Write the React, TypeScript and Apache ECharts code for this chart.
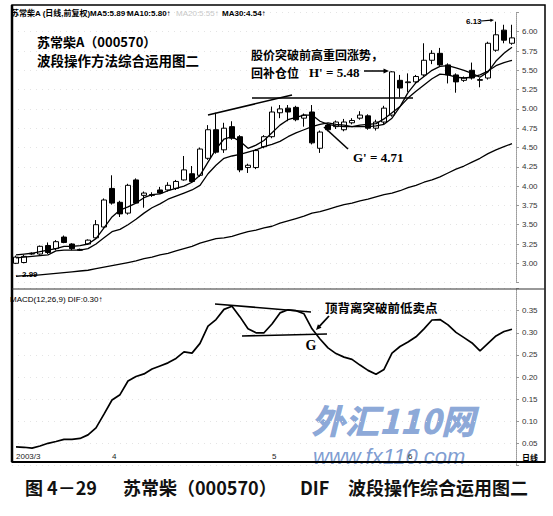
import React, { useEffect, useRef } from "react";
import * as echarts from "echarts";

// ---------- data ----------
const categories = [
  "1","2","3","4","5","6","7","8","9","10","11","12","13","14","15","16","17","18","19","20","21",
  "22","23","24","25","26","27","28","29","30","31","32","33","34","35","36","37","38","39","40","41","42",
  "43","44","45","46","47","48","49","50","51","52","53","54","55","56","57","58","59","60","61","62","63",
];
const monthTickIndex = [0, 12, 32, 49];
const monthTickLabels = ["2003/3", "4", "5", "6"];

const opens = [
  3.0, 3.01, 3.12, 3.12, 3.23, 3.19, 3.34, 3.25, 3.18, 3.25, 3.33, 3.47, 3.97, 3.79, 3.65, 4.08, 3.88, 3.89, 3.95, 3.95, 3.97,
  4.08, 4.16, 4.14, 4.36, 4.73, 4.47, 4.77, 4.64, 4.24, 4.24, 4.51, 4.64, 4.95, 5.01, 5.02, 4.88, 4.96, 4.49, 4.79, 4.77, 4.73,
  4.82, 4.88, 4.91, 4.75, 4.83, 4.92, 5.37, 5.34, 5.35, 5.44, 5.63, 5.72, 5.57, 5.44, 5.37, 5.5, 5.37, 5.4, 5.76, 6.02, 5.85,
];
const closes = [
  3.08, 3.09, 3.13, 3.22, 3.14, 3.28, 3.27, 3.19, 3.17, 3.3, 3.5, 3.82, 3.78, 3.64, 4.01, 3.78, 3.91, 3.88, 3.91, 4.01, 4.06,
  4.21, 4.06, 4.48, 4.73, 4.44, 4.75, 4.62, 4.21, 4.27, 4.46, 4.64, 4.96, 5.0, 4.96, 4.86, 4.92, 4.56, 4.7, 4.73, 4.83, 4.83,
  4.85, 4.92, 4.75, 4.83, 5.01, 5.48, 5.27, 5.35, 5.42, 5.63, 5.72, 5.57, 5.44, 5.35, 5.4, 5.4, 5.38, 5.85, 5.96, 5.89, 5.92,
];
const lows = [
  2.99, 3.0, 3.11, 3.11, 3.12, 3.17, 3.26, 3.17, 3.16, 3.24, 3.32, 3.46, 3.76, 3.6, 3.63, 3.77, 3.72, 3.86, 3.9, 3.93, 3.95,
  4.07, 4.04, 4.12, 4.34, 4.42, 4.43, 4.6, 4.18, 4.17, 4.22, 4.49, 4.62, 4.88, 4.84, 4.84, 4.77, 4.54, 4.43, 4.71, 4.74, 4.71,
  4.8, 4.86, 4.73, 4.72, 4.8, 4.9, 5.15, 5.22, 5.33, 5.42, 5.58, 5.55, 5.33, 5.21, 5.35, 5.38, 5.28, 5.38, 5.74, 5.85, 5.83,
];
const highs = [
  3.1, 3.11, 3.14, 3.23, 3.27, 3.3, 3.36, 3.26, 3.19, 3.31, 3.56, 3.84, 4.14, 3.81, 4.03, 4.1, 3.93, 3.92, 3.99, 4.05, 4.08,
  4.39, 4.26, 4.5, 4.79, 4.95, 4.82, 4.84, 4.66, 4.29, 4.48, 4.66, 5.03, 5.05, 5.05, 5.04, 4.94, 5.05, 4.72, 4.81, 4.85, 4.87,
  4.88, 4.97, 4.93, 4.86, 5.04, 5.49, 5.44, 5.46, 5.44, 5.85, 5.76, 5.79, 5.59, 5.46, 5.42, 5.6, 5.4, 5.87, 6.13, 6.09, 6.09,
];
const ma5 = [
  3.11, 3.12, 3.13, 3.15, 3.17, 3.19, 3.22, 3.22, 3.23, 3.25, 3.32, 3.46, 3.6, 3.69, 3.73, 3.78, 3.85, 3.89, 3.9, 3.94, 3.97,
  4.0, 4.05, 4.14, 4.31, 4.48, 4.61, 4.64, 4.58, 4.49, 4.53, 4.59, 4.69, 4.79, 4.86, 4.89, 4.92, 4.92, 4.84, 4.8, 4.78, 4.77,
  4.77, 4.79, 4.8, 4.81, 4.87, 4.95, 5.03, 5.21, 5.34, 5.42, 5.5, 5.55, 5.56, 5.53, 5.5, 5.46, 5.41, 5.48, 5.62, 5.72, 5.8,
];
const ma10 = [
  3.07, 3.08, 3.09, 3.1, 3.11, 3.16, 3.17, 3.17, 3.17, 3.19, 3.25, 3.33, 3.41, 3.44, 3.5, 3.57, 3.65, 3.72, 3.77, 3.83, 3.87,
  3.91, 3.95, 4.01, 4.16, 4.27, 4.36, 4.39, 4.41, 4.44, 4.47, 4.51, 4.54, 4.58, 4.64, 4.69, 4.73, 4.77, 4.8, 4.82, 4.8, 4.79,
  4.77, 4.77, 4.77, 4.78, 4.8, 4.88, 5.03, 5.14, 5.23, 5.31, 5.39, 5.45, 5.44, 5.41, 5.4, 5.41, 5.44, 5.49, 5.56, 5.6, 5.63,
];
const ma30 = [
  2.83, 2.84, 2.84, 2.85, 2.86, 2.87, 2.88, 2.89, 2.9, 2.91, 2.93, 2.95, 2.97, 2.99, 3.01, 3.03, 3.06, 3.08, 3.11, 3.13, 3.16,
  3.19, 3.22, 3.26, 3.29, 3.32, 3.33, 3.35, 3.38, 3.41, 3.43, 3.46, 3.48, 3.52, 3.55, 3.58, 3.61, 3.65, 3.67, 3.7, 3.73, 3.76,
  3.78, 3.81, 3.83, 3.86, 3.89, 3.91, 3.94, 3.98, 4.01, 4.05, 4.08, 4.12, 4.17, 4.22, 4.26, 4.31, 4.36, 4.42, 4.47, 4.51, 4.55,
];
const dif = [
  0.042, 0.041, 0.039, 0.044, 0.05, 0.054, 0.059, 0.059, 0.061, 0.069, 0.085, 0.116, 0.148, 0.16, 0.191, 0.201, 0.207, 0.218,
  0.225, 0.232, 0.242, 0.257, 0.254, 0.276, 0.315, 0.33, 0.353, 0.36, 0.336, 0.309, 0.3, 0.3, 0.32, 0.345, 0.352, 0.35, 0.343,
  0.309, 0.286, 0.266, 0.253, 0.245, 0.24, 0.227, 0.215, 0.206, 0.217, 0.254, 0.269, 0.279, 0.291, 0.309, 0.329, 0.33, 0.318,
  0.301, 0.289, 0.277, 0.259, 0.276, 0.293, 0.303, 0.308,
];

// ---------- styling helpers ----------
const SERIF = "'Liberation Serif', 'DejaVu Serif', serif";
const SANS = "'Liberation Sans', 'Noto Sans CJK SC', sans-serif";
const CJK = "'Noto Sans CJK SC', 'Liberation Sans', sans-serif";

function txt(x: number, y: number, text: string, o: any = {}) {
  const align = o.align || "left";
  return {
    type: "text",
    x,
    y,
    z: o.z ?? 100,
    silent: true,
    style: {
      text,
      fill: o.fill || "#000",
      fontSize: o.size || 8,
      fontFamily: o.family || SANS,
      fontWeight: o.weight || "normal",
      fontStyle: o.style || "normal",
      opacity: o.opacity ?? 1,
      align,
      textAlign: align,
      verticalAlign: "middle",
      textVerticalAlign: "middle",
    },
  };
}
function seg(x1: number, y1: number, x2: number, y2: number, w = 1.5, color = "#000", z = 100) {
  return { type: "line", z, silent: true, shape: { x1, y1, x2, y2 }, style: { stroke: color, lineWidth: w } };
}
function arrow(x1: number, y1: number, x2: number, y2: number, w = 1.5, size = 6) {
  const a = Math.atan2(y2 - y1, x2 - x1);
  const s = 0.42;
  const p1 = [x2 - size * Math.cos(a - s), y2 - size * Math.sin(a - s)];
  const p2 = [x2 - size * Math.cos(a + s), y2 - size * Math.sin(a + s)];
  return [
    seg(x1, y1, x2 - Math.cos(a) * size * 0.6, y2 - Math.sin(a) * size * 0.6, w),
    { type: "polygon", z: 100, silent: true, shape: { points: [[x2, y2], p1, p2] }, style: { fill: "#000" } },
  ];
}

const axisLabelStyle = { fontSize: 8, color: "#333", fontFamily: SANS };

const option: any = {
  animation: false,
  backgroundColor: "#fff",
  grid: [
    { left: 12, width: 504, top: 12.4, height: 270.2 },
    { left: 12, width: 504, top: 288.6, height: 176.8 },
  ],
  xAxis: [
    { type: "category", gridIndex: 0, data: categories, boundaryGap: true, show: false },
    {
      type: "category",
      gridIndex: 1,
      data: categories,
      boundaryGap: true,
      z: 20,
      axisLine: { show: false },
      axisTick: { show: false },
      splitLine: { show: false },
      axisLabel: {
        inside: true,
        margin: 5,
        align: "left",
        fontSize: 8,
        color: "#222",
        fontFamily: SANS,
        interval: (i: number) => monthTickIndex.includes(i),
        formatter: (_v: string, i: number) => {
          const k = monthTickIndex.indexOf(i);
          return k >= 0 ? monthTickLabels[k] : "";
        },
      },
    },
  ],
  yAxis: [
    {
      type: "value",
      gridIndex: 0,
      position: "right",
      min: 2.75,
      max: 6.25,
      interval: 0.25,
      axisLine: { show: true, lineStyle: { color: "#999", type: "dotted" } },
      axisTick: { show: true, length: 3, lineStyle: { color: "#999" } },
      axisLabel: {
        ...axisLabelStyle,
        margin: 6,
        formatter: (v: number) => (v < 2.99 || v > 6.01 ? "" : v.toFixed(2)),
      },
      splitLine: { show: true, lineStyle: { color: "#e4e4e4", type: [1, 5] } },
    },
    {
      type: "value",
      gridIndex: 1,
      position: "right",
      min: 0,
      max: 0.4,
      interval: 0.05,
      axisLine: { show: true, lineStyle: { color: "#999", type: "dotted" } },
      axisTick: { show: true, length: 3, lineStyle: { color: "#999" } },
      axisLabel: {
        ...axisLabelStyle,
        margin: 6,
        formatter: (v: number) => (v < 0.04 || v > 0.36 ? "" : v.toFixed(2)),
      },
      splitLine: { show: true, lineStyle: { color: "#e4e4e4", type: [1, 5] } },
    },
  ],
  series: [
    {
      type: "candlestick",
      xAxisIndex: 0,
      yAxisIndex: 0,
      barWidth: 5,
      data: opens.map((o, i) => [o, closes[i], lows[i], highs[i]]),
      itemStyle: { color: "#fff", color0: "#000", borderColor: "#000", borderColor0: "#000", borderWidth: 1 },
      z: 3,
    },
    { type: "line", xAxisIndex: 0, yAxisIndex: 0, data: ma5, symbol: "none", lineStyle: { color: "#000", width: 1.3 }, z: 4 },
    { type: "line", xAxisIndex: 0, yAxisIndex: 0, data: ma10, symbol: "none", lineStyle: { color: "#000", width: 1.3 }, z: 4 },
    { type: "line", xAxisIndex: 0, yAxisIndex: 0, data: ma30, symbol: "none", lineStyle: { color: "#000", width: 1.3 }, z: 4 },
    { type: "line", xAxisIndex: 1, yAxisIndex: 1, data: dif, symbol: "none", lineStyle: { color: "#000", width: 1.7 }, z: 4 },
  ],
  graphic: [
    // watermark
    txt(311, 419, "外汇110网", { size: 34, weight: 900, style: "italic", family: CJK, fill: "#7d9dd3", z: 0, opacity: 0.9 }),
    txt(313, 456, "www.fx110.com", { size: 22, style: "italic", family: SANS, fill: "#6f91cc", z: 0, opacity: 0.9 }),
    // frame
    { type: "rect", z: 90, silent: true, shape: { x: 12, y: 5, width: 533, height: 457 }, style: { fill: "none", stroke: "#000", lineWidth: 1.5 } },
    seg(12, 5, 12, 462, 2.5, "#000", 91),
    seg(12, 462, 545, 462, 2, "#000", 91),
    seg(12, 289, 545, 289, 1, "#333", 91),
    // header
    txt(11, 13, "苏常柴A (日线,前复权)", { size: 8, weight: "bold" }),
    txt(90, 13, "MA5:5.89↑", { size: 8, weight: "bold" }),
    txt(127, 13, "MA10:5.80↑", { size: 8, weight: "bold" }),
    txt(176, 13, "MA20:5.55↑", { size: 8, fill: "#c8c8c8" }),
    txt(222, 13, "MA30:4.54↑", { size: 8, weight: "bold" }),
    // title
    txt(37, 41, "苏常柴A（000570）", { size: 13, weight: "bold", family: CJK }),
    txt(37, 60, "波段操作方法综合运用图二", { size: 13.5, weight: "bold", family: CJK }),
    // price-pane annotations
    txt(251, 54, "股价突破前高重回涨势，", { size: 12, weight: "bold", family: CJK }),
    txt(251, 72, "回补仓位", { size: 12, weight: "bold", family: CJK }),
    txt(309, 72, "H' = 5.48", { size: 13, weight: "bold", family: SERIF }),
    ...arrow(364, 71, 389, 71, 1.5, 6),
    seg(252, 98, 413, 98, 1.6),
    seg(208, 115, 292, 95, 1.6),
    seg(324, 127, 348, 149, 1.6),
    txt(353, 157, "G' = 4.71", { size: 13, weight: "bold", family: SERIF }),
    txt(466, 21, "6.13", { size: 8, weight: "bold" }),
    ...arrow(481, 21, 494, 20, 1.2, 4),
    txt(14, 274, "←2.99", { size: 8, weight: "bold" }),
    // MACD pane
    txt(10, 299, "MACD(12,26,9) DIF:0.30↑", { size: 8 }),
    seg(215, 304, 311, 312, 1.6),
    seg(242, 336, 327, 334, 1.6),
    txt(325, 307, "顶背离突破前低卖点", { size: 12.5, weight: "bold", family: CJK }),
    ...arrow(329, 316, 316, 330, 1.8, 6),
    txt(311, 345, "G", { size: 14, weight: "bold", family: SERIF, align: "center" }),
    txt(522, 457, "日线", { size: 8, weight: "bold", family: CJK }),
    // caption
    txt(25, 487, "图 4－29", { size: 18, weight: "bold", family: CJK, fill: "#111" }),
    txt(123, 487, "苏常柴（000570）", { size: 18, weight: "bold", family: CJK, fill: "#111" }),
    txt(300, 487, "DIF", { size: 18, weight: "bold", family: CJK, fill: "#111" }),
    txt(348, 487, "波段操作综合运用图二", { size: 18, weight: "bold", family: CJK, fill: "#111" }),
  ],
};

export default function App() {
  const ref = useRef<HTMLDivElement>(null);
  useEffect(() => {
    if (!ref.current) return;
    const chart = echarts.init(ref.current, null, { renderer: "svg" });
    chart.setOption(option);
    return () => chart.dispose();
  }, []);
  return (
    <div
      ref={ref}
      style={{ position: "absolute", left: 0, top: 0, width: 553, height: 516, background: "#fff" }}
    />
  );
}
